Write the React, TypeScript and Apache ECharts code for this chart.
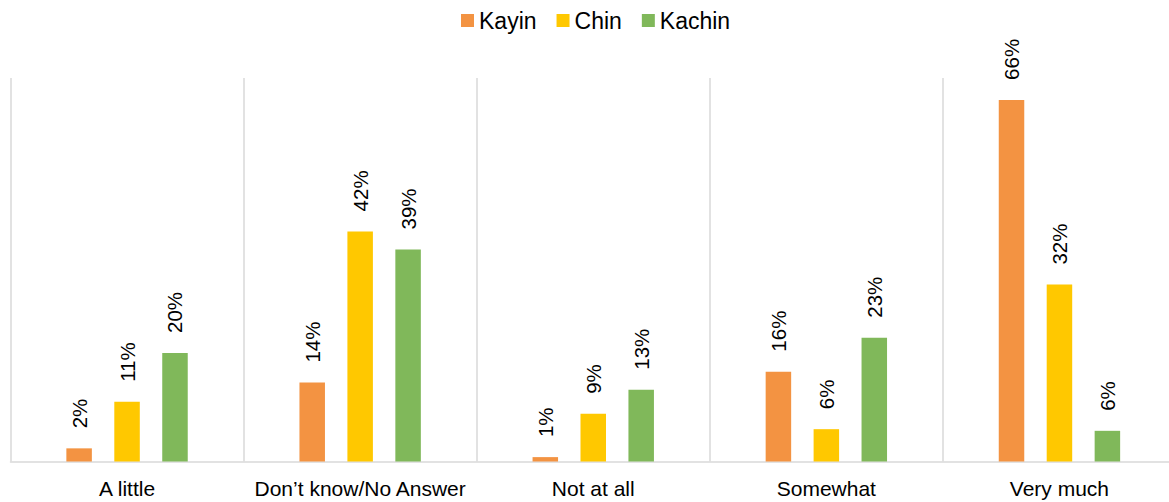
import React, { useEffect, useRef } from "react";
import * as echarts from "echarts";

const categories = ["A little", "Don’t know/No Answer", "Not at all", "Somewhat", "Very much"];
const seriesNames = ["Kayin", "Chin", "Kachin"];
const kayin = [2.4, 14.4, 0.8, 16.4, 66];
const chin = [10.9, 42, 8.7, 5.9, 32.3];
const kachin = [19.8, 38.7, 13.1, 22.6, 5.6];
const colors = ["#F39342", "#FFC800", "#80B85A"];

const FONT = "'Liberation Sans', Arial, sans-serif";

export default function App() {
  const ref = useRef<HTMLDivElement>(null);
  useEffect(() => {
    if (!ref.current) return;
    const chart = echarts.init(ref.current, undefined, { renderer: "svg" });
    const dataSets = [kayin, chin, kachin];
    chart.setOption({
      animation: false,
      textStyle: { fontFamily: FONT },
      legend: {
        top: 4,
        left: 456,
        icon: "rect",
        itemWidth: 13,
        itemHeight: 13,
        itemGap: 20,
        textStyle: { fontSize: 23, color: "#000", fontFamily: FONT },
        data: seriesNames,
      },
      grid: { left: 10.5, top: 78, right: 0, bottom: 40.5, containLabel: false },
      xAxis: {
        type: "category",
        data: categories,
        axisTick: { show: false },
        axisLine: { lineStyle: { color: "#d9d9d9", width: 1.5 } },
        splitLine: { show: true, lineStyle: { color: "#d9d9d9", width: 1.5 } },
        axisLabel: { fontSize: 21, color: "#000", margin: 16, fontFamily: FONT, interval: 0 },
      },
      yAxis: {
        type: "value",
        min: 0,
        max: 70,
        show: false,
        splitLine: { show: false },
      },
      series: seriesNames.map((name, i) => ({
        name,
        type: "bar",
        data: dataSets[i],
        barWidth: 25.5,
        barGap: "88%",
        itemStyle: { color: colors[i] },
        label: {
          show: true,
          position: "top",
          rotate: 90,
          align: "left",
          verticalAlign: "middle",
          distance: 20,
          fontSize: 20.5,
          color: "#000",
          fontFamily: FONT,
          formatter: (p: any) => Math.round(p.value) + "%",
        },
      })),
    });
    return () => chart.dispose();
  }, []);
  return (
    <div
      style={{
        position: "fixed",
        left: 0,
        top: 0,
        width: 1169,
        height: 502,
        overflow: "hidden",
        background: "#fff",
      }}
    >
      <div ref={ref} style={{ width: 1176, height: 502 }} />
    </div>
  );
}
